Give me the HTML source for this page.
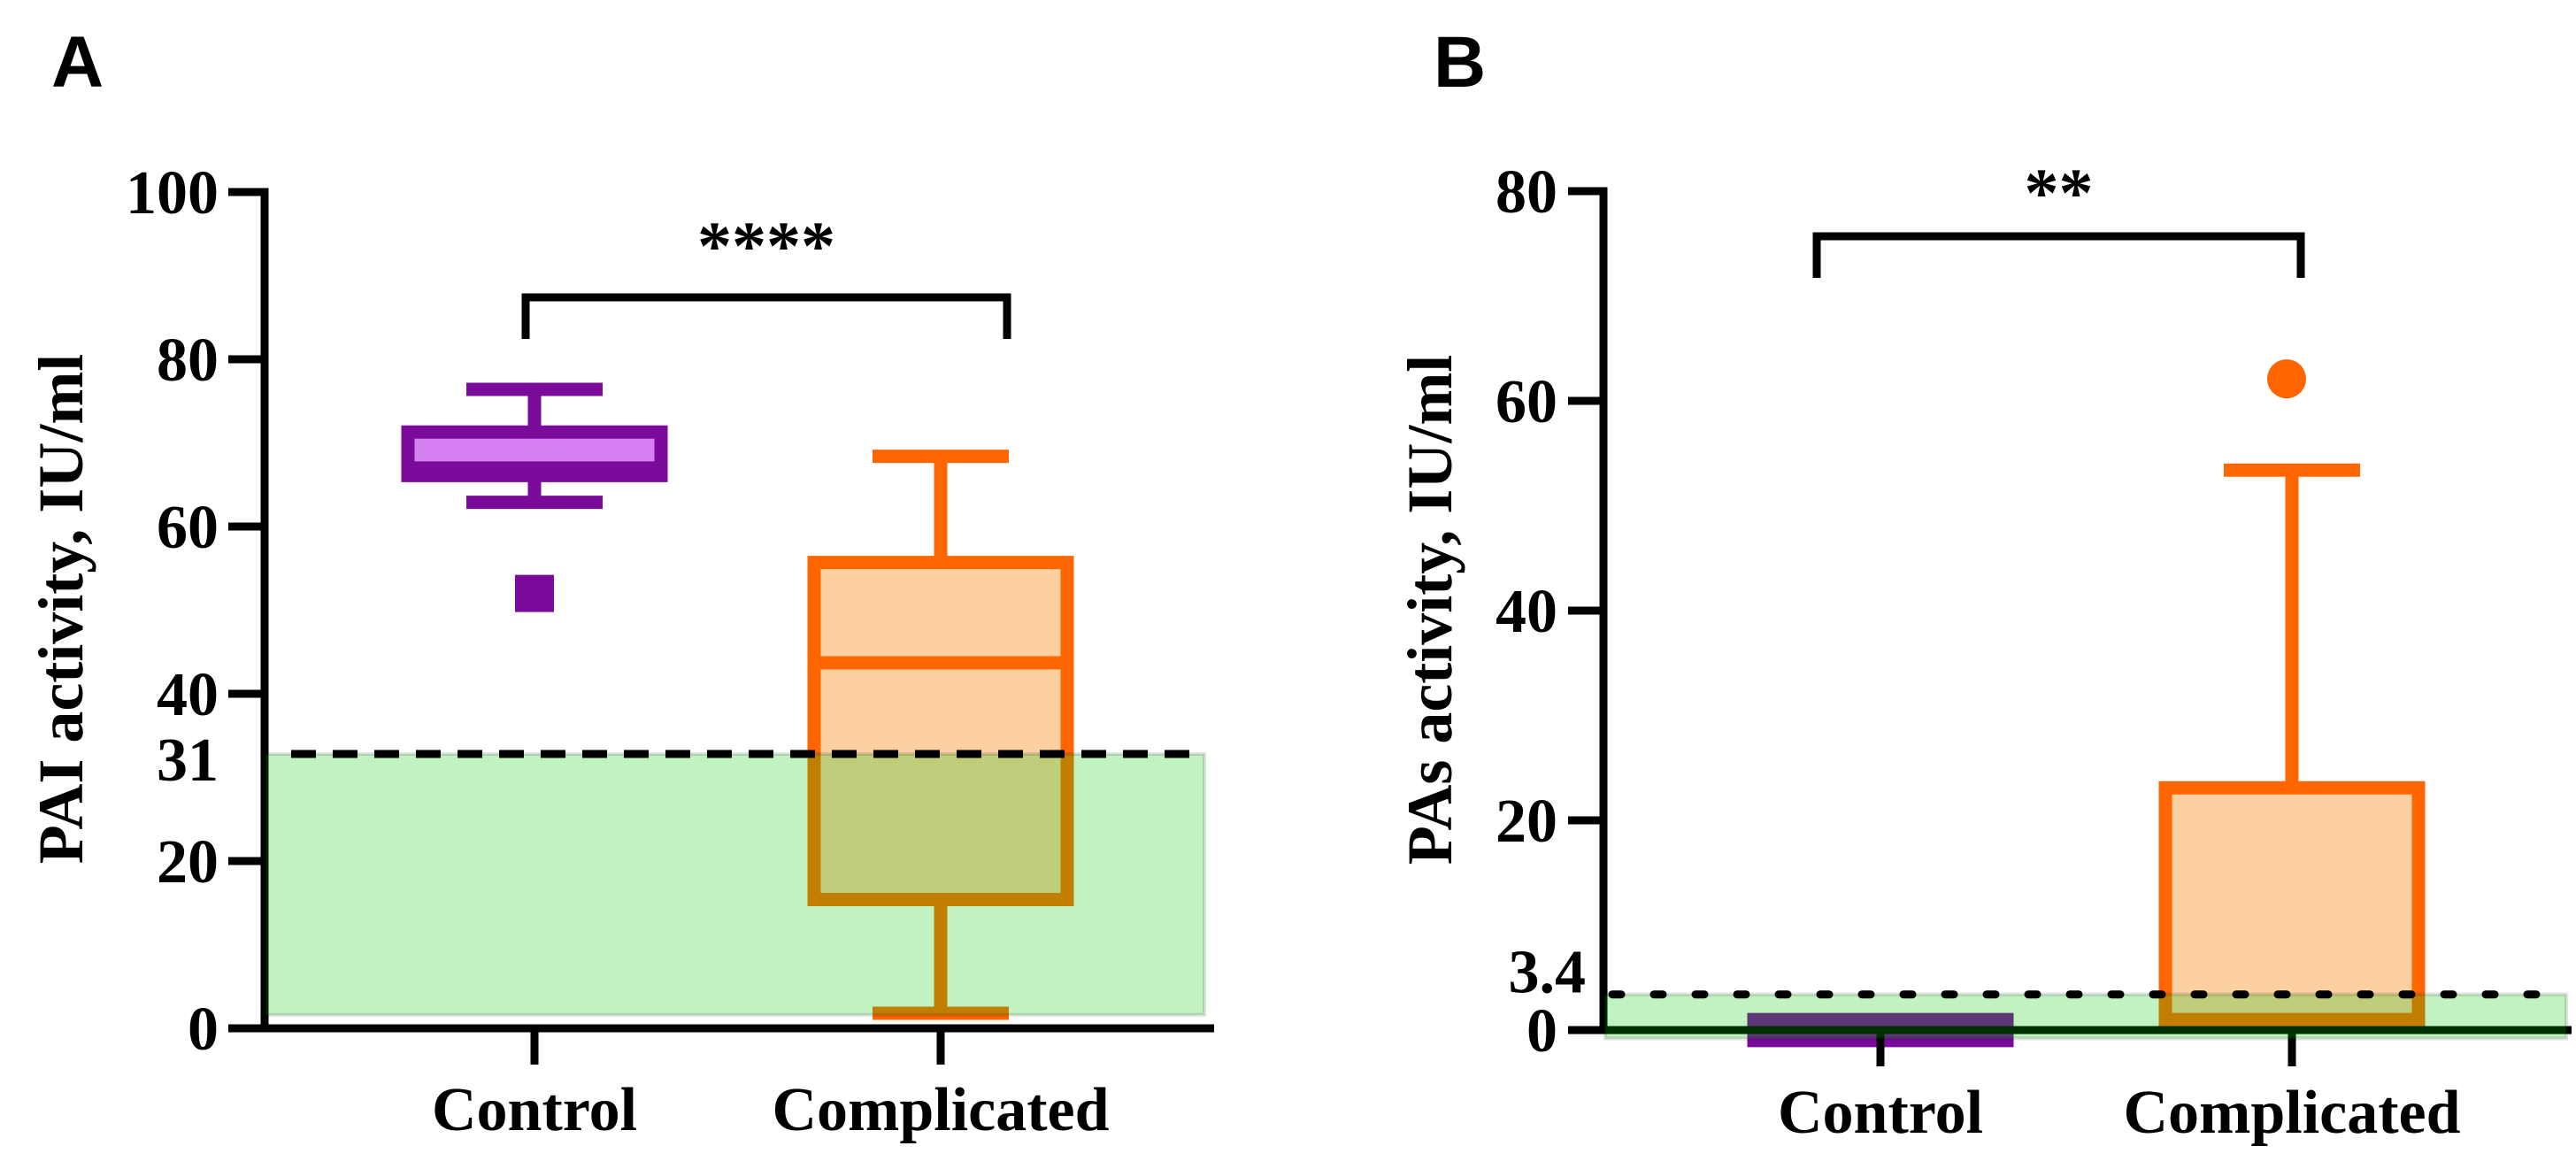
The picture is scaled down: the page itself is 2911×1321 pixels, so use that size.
<!DOCTYPE html>
<html><head><meta charset="utf-8"><style>
html,body{margin:0;padding:0;background:#fff;}
svg{display:block;}
text{font-family:"Liberation Serif",serif;font-weight:bold;fill:#000;}
</style></head>
<body>
<svg id="fig" width="2911" height="1321" viewBox="0 0 2911 1321" xmlns="http://www.w3.org/2000/svg"></svg>
<script>
// ---- Panel A data ----
const catsA = ["Control", "Complicated"];
const q1A = [66.1, 15.4];
const medA = [67.0, 43.7];
const q3A = [71.3, 55.7];
const minA = [62.9, 1.8];
const maxA = [76.4, 68.4];
const outA = [[52.0], []];
const ticksA = [0, 20, 40, 60, 80, 100];
const threshA = [32.8];
const threshLabelA = ["31"];
const greenA = [1.6, 32.8];
// ---- Panel B data ----
const catsB = ["Control", "Complicated"];
const q1B = [-1.0, 0.6];
const medB = [0.0, 1.0];
const q3B = [1.0, 23.1];
const minB = [-1.0, 0.6];
const maxB = [1.0, 53.4];
const outB = [[], [62.1]];
const ticksB = [0, 20, 40, 60, 80];
const threshB = [3.4];
const threshLabelB = ["3.4"];
const greenB = [-0.8, 3.4];

const NS = "http://www.w3.org/2000/svg";
const svg = document.getElementById("fig");
function mk(tag, attrs, parent, txt){
  const e = document.createElementNS(NS, tag);
  for (const k in attrs) e.setAttribute(k, attrs[k]);
  if (txt !== undefined) e.textContent = txt;
  (parent || svg).appendChild(e);
  return e;
}

function panel(cfg){
  const g = mk("g", {});
  
  
  const y = v => cfg.y0 - v * cfg.ppu;
  const x = i => cfg.xc[i];
  const colors = [{s:"#790a9a", f:"#d580f0"}, {s:"#ff6600", f:"#fdd0a2"}];

  // panel letter
  const L = mk("text", {x: cfg.letterX, y: 98, "font-size": 82, style: "font-family:'Liberation Sans',sans-serif;font-weight:bold"}, g, cfg.letter);
  
  

  // y axis title
  const T = mk("text", {x: 0, y: 0, "font-size": 72, "text-anchor": "middle", transform: `translate(${cfg.titleX},${cfg.titleY}) rotate(-90)`}, g, cfg.title);
  
  

  // boxes
  for (let i = 0; i < cfg.q1.length; i++){
    const c = colors[i];
    const bg = mk("g", {}, g);
    
    
    const hw = cfg.boxHW, cw = 77;
    mk("line", {x1: x(i), x2: x(i), y1: y(cfg.max[i]), y2: y(cfg.q3[i]), stroke: c.s, "stroke-width": 15}, bg);
    mk("line", {x1: x(i), x2: x(i), y1: y(cfg.q1[i]), y2: y(cfg.min[i]), stroke: c.s, "stroke-width": 15}, bg);
    if (cfg.max[i] > cfg.q3[i]) mk("line", {x1: x(i)-cw, x2: x(i)+cw, y1: y(cfg.max[i]), y2: y(cfg.max[i]), stroke: c.s, "stroke-width": 15}, bg);
    if (cfg.min[i] < cfg.q1[i]) mk("line", {x1: x(i)-cw, x2: x(i)+cw, y1: y(cfg.min[i]), y2: y(cfg.min[i]), stroke: c.s, "stroke-width": 15}, bg);
    const solid = cfg.solid && cfg.solid[i];
    mk("rect", {x: x(i)-hw, y: y(cfg.q3[i]), width: 2*hw, height: y(cfg.q1[i]) - y(cfg.q3[i]), fill: solid ? c.s : c.f, stroke: c.s, "stroke-width": 15}, bg);
    mk("line", {x1: x(i)-hw, x2: x(i)+hw, y1: y(cfg.med[i]), y2: y(cfg.med[i]), stroke: c.s, "stroke-width": 15}, bg);
    cfg.out[i].forEach(v => {
      let o;
      if (i === 0) o = mk("rect", {x: x(i)-22, y: y(v)-21, width: 44, height: 42, fill: c.s}, bg);
      else o = mk("circle", {cx: x(i)-6, cy: y(v), r: 22, fill: c.s}, bg);
      
      
    });
  }

  // axes
  const ax = mk("g", {}, g);
  
  
  const topV = cfg.ticks[cfg.ticks.length-1];
  mk("line", {x1: cfg.axX, x2: cfg.axX, y1: y(topV)-4.5, y2: y(0)+4.5, stroke: "#000", "stroke-width": 9}, ax);
  mk("line", {x1: cfg.axX0, x2: cfg.axX1, y1: y(0), y2: y(0), stroke: "#000", "stroke-width": 9}, ax);
  cfg.ticks.forEach(v => {
    mk("line", {x1: cfg.axX0, x2: cfg.axX, y1: y(v), y2: y(v), stroke: "#000", "stroke-width": 9}, ax);
    const t = mk("text", {x: cfg.labelR, y: y(v) + 24, "font-size": 70, "text-anchor": "end"}, ax, String(v));
    
    
  });
  cfg.cats.forEach((c, i) => {
    mk("line", {x1: x(i), x2: x(i), y1: y(0), y2: y(0)+41, stroke: "#000", "stroke-width": 9}, ax);
    const t = mk("text", {x: x(i), y: cfg.xlabY, "font-size": 70, "text-anchor": "middle"}, ax, c);
    
    
  });

  // green reference zone (semi-transparent, on top)
  const gz = mk("rect", {x: cfg.axX + 2, y: y(cfg.green[1]), width: cfg.greenX1 - cfg.axX - 2, height: y(cfg.green[0]) - y(cfg.green[1]), fill: "rgba(0,200,0,0.245)", stroke: "rgba(0,0,0,0.12)", "stroke-width": 4}, g);
  
  

  // threshold dashed line + label
  const th = mk("line", {x1: cfg.dashX0, x2: cfg.dashX1, y1: y(cfg.thresh[0]), y2: y(cfg.thresh[0]), stroke: "#000", "stroke-width": 9, "stroke-dasharray": cfg.dash, "stroke-linecap": cfg.cap}, g);
  
  
  const tl = mk("text", {x: cfg.threshLabR, y: y(cfg.thresh[0]) + cfg.threshLabDy, "font-size": 70, "text-anchor": "end"}, g, cfg.threshLabel[0]);
  
  

  // significance bracket
  const br = mk("g", {}, g);
  
  
  const b = cfg.br;
  mk("polyline", {points: `${b.x0},${b.yl} ${b.x0},${b.y} ${b.x1},${b.y} ${b.x1},${b.yl}`, fill: "none", stroke: "#000", "stroke-width": 9}, br);
  mk("text", {x: (b.x0+b.x1)/2, y: b.ty, "font-size": 78, "text-anchor": "middle"}, br, b.txt);
}

panel({name: "panel-a", letter: "A", letterX: 58, title: "PAI activity, IU/ml", titleX: 93, titleY: 688,
  cats: catsA, q1: q1A, med: medA, q3: q3A, min: minA, max: maxA, out: outA, ticks: ticksA,
  thresh: threshA, threshLabel: threshLabelA, green: greenA,
  y0: 1162, ppu: 9.45, xc: [604, 1063], boxHW: 143, axX: 299, axX0: 258, axX1: 1372, labelR: 247,
  xlabY: 1277, greenX1: 1361, dashX0: 329, dashX1: 1356, dash: "28 19", cap: "butt",
  threshLabR: 247, threshLabDy: 30,
  br: {x0: 594, x1: 1138, y: 336, yl: 383, ty: 304, txt: "****"}});

panel({name: "panel-b", letter: "B", letterX: 1620, title: "PAs activity, IU/ml", titleX: 1640, titleY: 689,
  cats: catsB, q1: q1B, med: medB, q3: q3B, min: minB, max: maxB, out: outB, ticks: ticksB, solid: [true, false],
  thresh: threshB, threshLabel: threshLabelB, green: greenB,
  y0: 1164, ppu: 11.85, xc: [2125, 2590], boxHW: 143, axX: 1812, axX0: 1772, axX1: 2906, labelR: 1760,
  xlabY: 1280, greenX1: 2900, dashX0: 1822, dashX1: 2896, dash: "10 37", cap: "round",
  threshLabR: 1792, threshLabDy: -2,
  br: {x0: 2053, x1: 2600, y: 267, yl: 314, ty: 244, txt: "**"}});
</script>
</body></html>
